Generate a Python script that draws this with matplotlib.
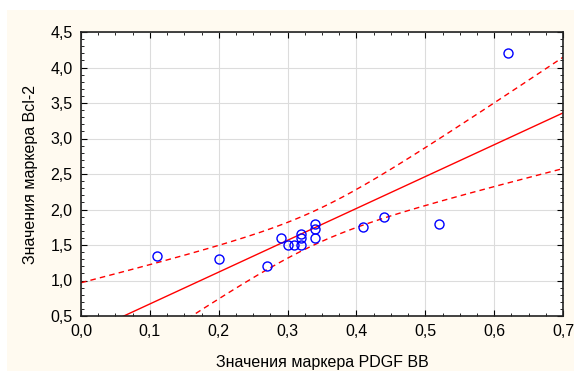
import matplotlib
matplotlib.use('Agg')
import matplotlib.pyplot as plt
import matplotlib.ticker as mticker
import numpy as np

# Data
pdgf_bb = [0.11, 0.20, 0.27, 0.29, 0.30, 0.31, 0.32, 0.32, 0.32,
           0.34, 0.34, 0.34, 0.41, 0.44, 0.52, 0.62]
bcl2 = [1.35, 1.30, 1.20, 1.60, 1.50, 1.50, 1.50, 1.60, 1.65,
        1.60, 1.73, 1.80, 1.75, 1.90, 1.80, 4.20]

x_ticks = [0.0, 0.1, 0.2, 0.3, 0.4, 0.5, 0.6, 0.7]
y_ticks = [0.5, 1.0, 1.5, 2.0, 2.5, 3.0, 3.5, 4.0, 4.5]

plt.rcParams['font.family'] = ['Liberation Sans', 'DejaVu Sans']

x = np.array(pdgf_bb)
y = np.array(bcl2)
n = len(x)

# Linear regression and 95% confidence band for the mean
slope, intercept = np.polyfit(x, y, 1)
resid = y - (slope * x + intercept)
s = np.sqrt(np.sum(resid ** 2) / (n - 2))
sxx = np.sum((x - x.mean()) ** 2)
t_crit = 2.145  # t(0.975, df=14)

xs = np.linspace(0, 0.7, 200)
fit = slope * xs + intercept
half = t_crit * s * np.sqrt(1 / n + (xs - x.mean()) ** 2 / sxx)

fig = plt.figure(figsize=(5.74, 3.71), dpi=100)
fig.patch.set_facecolor('white')
bg = plt.Rectangle((7 / 574, 0), 1, (371 - 10) / 371,
                   transform=fig.transFigure,
                   facecolor='#fffaf0', edgecolor='none', zorder=-10)
fig.add_artist(bg)

ax = fig.add_axes([81 / 574, 55 / 371, 482 / 574, 284 / 371])
ax.set_facecolor('white')

ax.plot(xs, fit, color='red', lw=1)
ax.plot(xs, fit + half, color='red', lw=1, ls=(0, (4, 3)))
ax.plot(xs, fit - half, color='red', lw=1, ls=(0, (4, 3)))
ax.plot(x, y, 'o', mfc='none', mec='blue', ms=6.5, mew=1)

ax.set_xlim(0, 0.7)
ax.set_ylim(0.5, 4.5)
ax.set_xticks(x_ticks)
ax.set_yticks(y_ticks)
ax.xaxis.set_minor_locator(mticker.MultipleLocator(0.025))
ax.yaxis.set_minor_locator(mticker.MultipleLocator(0.1))
ax.set_xticklabels([f'{v:.1f}'.replace('.', ',') for v in x_ticks])
ax.set_yticklabels([f'{v:.1f}'.replace('.', ',') for v in y_ticks])

ax.grid(True, which='major', color='#dcdcdc', lw=0.8)
ax.set_axisbelow(True)
ax.tick_params(which='both', direction='in', top=True, right=True,
               labelsize=11.5, colors='black')
ax.tick_params(which='major', length=4, pad=6)
ax.tick_params(which='minor', length=2)
for sp in ax.spines.values():
    sp.set_linewidth(1.2)
    sp.set_color('#222222')

ax.set_xlabel('Значения маркера PDGF BB', fontsize=11.5, labelpad=11)
ax.set_ylabel('Значения маркера Bcl-2', fontsize=11.5, labelpad=9)

fig.savefig('out.png', dpi=100)
